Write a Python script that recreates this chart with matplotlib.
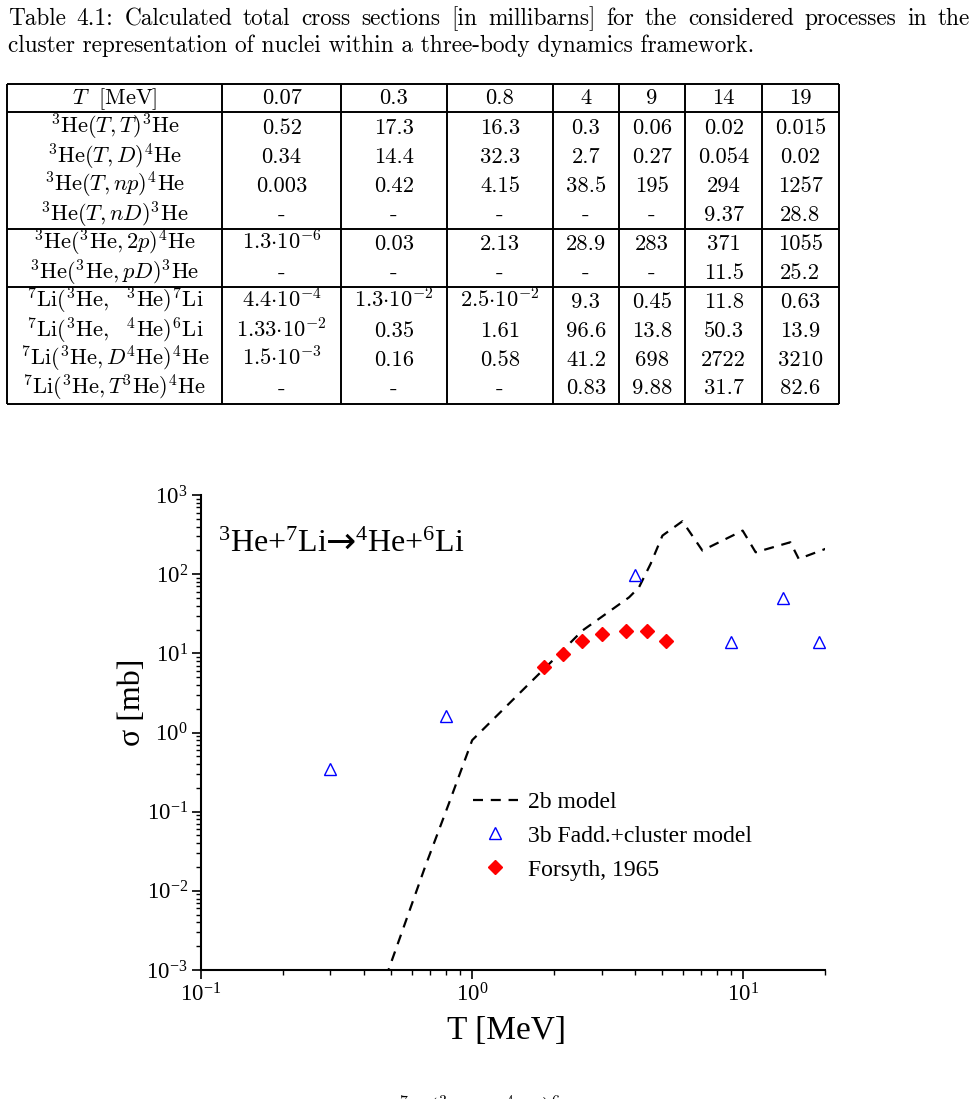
import numpy as np
import matplotlib
matplotlib.use("Agg")
import matplotlib.pyplot as plt
from matplotlib import transforms
from matplotlib.ticker import LogLocator, NullFormatter

plt.rcParams["font.family"] = ["Liberation Serif", "DejaVu Serif"]
plt.rcParams["mathtext.fontset"] = "custom"
plt.rcParams["mathtext.rm"] = "Liberation Serif"
plt.rcParams["mathtext.it"] = "Liberation Serif:italic"
plt.rcParams["mathtext.bf"] = "Liberation Serif:bold"

# ---------------------------------------------------------------------------
# Table 4.1 data
# ---------------------------------------------------------------------------
CAPTION = [
    "Table 4.1: Calculated total cross sections [in millibarns] for the considered processes in the",
    "cluster representation of nuclei within a three-body dynamics framework.",
]
T_HEADER = ["0.07", "0.3", "0.8", "4", "9", "14", "19"]
REACTIONS = [
    r"${}^3\mathrm{He}(T,T){}^3\mathrm{He}$",
    r"${}^3\mathrm{He}(T,D){}^4\mathrm{He}$",
    r"${}^3\mathrm{He}(T,np){}^4\mathrm{He}$",
    r"${}^3\mathrm{He}(T,nD){}^3\mathrm{He}$",
    r"${}^3\mathrm{He}({}^3\mathrm{He},2p){}^4\mathrm{He}$",
    r"${}^3\mathrm{He}({}^3\mathrm{He},pD){}^3\mathrm{He}$",
    r"${}^7\mathrm{Li}({}^3\mathrm{He},\ \ {}^3\mathrm{He}){}^7\mathrm{Li}$",
    r"${}^7\mathrm{Li}({}^3\mathrm{He},\ \ {}^4\mathrm{He}){}^6\mathrm{Li}$",
    r"${}^7\mathrm{Li}({}^3\mathrm{He},D{}^4\mathrm{He}){}^4\mathrm{He}$",
    r"${}^7\mathrm{Li}({}^3\mathrm{He},T{}^3\mathrm{He}){}^4\mathrm{He}$",
]
CELLS = [
    ["0.52", "17.3", "16.3", "0.3", "0.06", "0.02", "0.015"],
    ["0.34", "14.4", "32.3", "2.7", "0.27", "0.054", "0.02"],
    ["0.003", "0.42", "4.15", "38.5", "195", "294", "1257"],
    ["-", "-", "-", "-", "-", "9.37", "28.8"],
    [r"$1.3{\cdot}10^{-6}$", "0.03", "2.13", "28.9", "283", "371", "1055"],
    ["-", "-", "-", "-", "-", "11.5", "25.2"],
    [r"$4.4{\cdot}10^{-4}$", r"$1.3{\cdot}10^{-2}$", r"$2.5{\cdot}10^{-2}$",
     "9.3", "0.45", "11.8", "0.63"],
    [r"$1.33{\cdot}10^{-2}$", "0.35", "1.61", "96.6", "13.8", "50.3", "13.9"],
    [r"$1.5{\cdot}10^{-3}$", "0.16", "0.58", "41.2", "698", "2722", "3210"],
    ["-", "-", "-", "0.83", "9.88", "31.7", "82.6"],
]

# ---------------------------------------------------------------------------
# Plot data: 3He + 7Li -> 4He + 6Li
# ---------------------------------------------------------------------------
T_3B = [0.07, 0.3, 0.8, 4, 9, 14, 19]
SIG_3B = [1.33e-2, 0.35, 1.61, 96.6, 13.8, 50.3, 13.9]

T_2B = [0.48, 0.67, 0.82, 1.0, 1.62, 2.0, 2.55, 3.0, 3.79, 4.12, 4.55,
        5.03, 5.96, 7.06, 9.94, 11.1, 14.9, 16.0, 20.1]
SIG_2B = [8e-4, 0.02, 0.126, 0.8, 4.12, 8.4, 19.4, 28.8, 51.0, 68.0, 135.0,
          307.0, 466.0, 199.0, 355.0, 189.0, 253.0, 156.0, 209.0]

T_EXP = [1.84, 2.17, 2.55, 3.02, 3.69, 4.41, 5.18]
SIG_EXP = [6.7, 9.9, 14.4, 17.6, 19.4, 19.3, 14.3]

W_PX, H_PX = 976, 1099

fig = plt.figure(figsize=(W_PX / 100, H_PX / 100), dpi=100, facecolor="white")
renderer = fig.canvas.get_renderer()

# ---------------------------------------------------------------------------
# Table (drawn in pixel coordinates on a full-figure overlay)
# ---------------------------------------------------------------------------
tab = fig.add_axes([0, 0, 1, 1])
tab.set_xlim(0, W_PX)
tab.set_ylim(H_PX, 0)
tab.axis("off")

cm_kw = dict(fontfamily="cmr10", math_fontfamily="cm", fontsize=16.2, color="black")
cap_kw = dict(cm_kw, fontsize=16.8)

# first caption line is justified between x=8 and x=970
words = CAPTION[0].split()
word_txt = [tab.text(0, 25, w, ha="left", va="baseline", **cap_kw) for w in words]
widths = [t.get_window_extent(renderer).width for t in word_txt]
gap = (970 - 8 - sum(widths)) / (len(words) - 1)
x = 8
for t, w in zip(word_txt, widths):
    t.set_x(x)
    x += w + gap
tab.text(8, 52, CAPTION[1], ha="left", va="baseline", **cap_kw)

col_x = [6.7, 222.3, 341, 446.7, 553.3, 618.7, 685.3, 762, 838.7]
row_lines = [84, 112.3, 229.3, 287.3, 404]
baselines = [104, 134, 163, 192, 221, 250, 279, 308, 337, 366, 394.5]
lw_tab = 1.4

tab.vlines(col_x, row_lines[0], row_lines[-1], color="black", lw=lw_tab)
tab.hlines(row_lines, col_x[0], col_x[-1], color="black", lw=lw_tab)

centers = [(a + b) / 2 for a, b in zip(col_x[:-1], col_x[1:])]
tab.text(centers[0], baselines[0], r"$T\ \ [\mathrm{MeV}]$", ha="center", va="baseline", **cm_kw)
for c, lab in zip(centers[1:], T_HEADER):
    tab.text(c, baselines[0], lab, ha="center", va="baseline", **cm_kw)
for r, (reac, row) in enumerate(zip(REACTIONS, CELLS)):
    yb = baselines[r + 1]
    tab.text(centers[0], yb, reac, ha="center", va="baseline", **cm_kw)
    for c, val in zip(centers[1:], row):
        tab.text(c, yb, val, ha="center", va="baseline", **cm_kw)

# cut-off caption of the figure below (only its superscripts show in the page)
tab.text(398, 1116, r"${}^7\mathrm{Li}({}^3\mathrm{He},\ \ \ {}^4\mathrm{He}){}^6\mathrm{Li}$",
         ha="left", va="baseline", **cm_kw)

# ---------------------------------------------------------------------------
# Cross-section plot
# ---------------------------------------------------------------------------
ax = fig.add_axes([201 / W_PX, 1 - 970 / H_PX, 624 / W_PX, 475 / H_PX])
ax.set_xscale("log")
ax.set_yscale("log")

ax.plot(T_2B, SIG_2B, color="black", lw=1.6, dashes=(4.5, 3.5), label="2b model")
ax.plot(T_3B, SIG_3B, ls="none", marker="^", ms=8, mfc="none", mec="#0000ff",
        mew=1.0, label="3b Fadd.+cluster model")
ax.plot(T_EXP, SIG_EXP, ls="none", marker="D", ms=7.3, color="#ff0000",
        mec="#ff0000", label="Forsyth, 1965")

ax.set_xlim(0.1, 20)
ax.set_ylim(1e-3, 1e3)

for side in ("top", "right"):
    ax.spines[side].set_visible(False)
for side in ("left", "bottom"):
    ax.spines[side].set_linewidth(1.5)

for axis in (ax.xaxis, ax.yaxis):
    axis.set_major_locator(LogLocator(base=10, numticks=12))
    axis.set_minor_locator(LogLocator(base=10, subs=np.arange(2, 10), numticks=12))
    axis.set_minor_formatter(NullFormatter())
ax.tick_params(which="major", direction="out", length=6.5, width=1.2, labelsize=16.5, pad=3)
ax.tick_params(which="minor", direction="out", length=3.5, width=1.0)

# reaction label: left part, a full-size arrow, right part
left = ax.text(0.027, 0.88, r"$^{3}$He+$^{7}$Li", transform=ax.transAxes,
               fontsize=23, ha="left", va="baseline")
w_left = left.get_window_extent(renderer).width
arrow_tr = transforms.offset_copy(ax.transAxes, fig, x=w_left - 1, y=-1, units="dots")
arrow = ax.text(0.027, 0.88, "→", transform=arrow_tr, fontsize=26,
                family="DejaVu Sans", ha="left", va="baseline")
w_arrow = arrow.get_window_extent(renderer).width
right_tr = transforms.offset_copy(ax.transAxes, fig, x=w_left + w_arrow - 3, units="dots")
ax.text(0.027, 0.88, r"$^{4}$He+$^{6}$Li", transform=right_tr,
        fontsize=23, ha="left", va="baseline")

ax.set_xlabel("T [MeV]", fontsize=24)
ax.xaxis.set_label_coords(0.49, -0.096)
ax.set_ylabel("σ [mb]", fontsize=23)
ax.yaxis.set_label_coords(-0.087, 0.564)

ax.legend(loc="upper left", bbox_to_anchor=(0.436, 0.376), frameon=False,
          fontsize=17, handlelength=1.9, handletextpad=0.42, labelspacing=0.52,
          borderpad=0, borderaxespad=0, numpoints=1)

fig.savefig("out.png", dpi=100, facecolor="white")
